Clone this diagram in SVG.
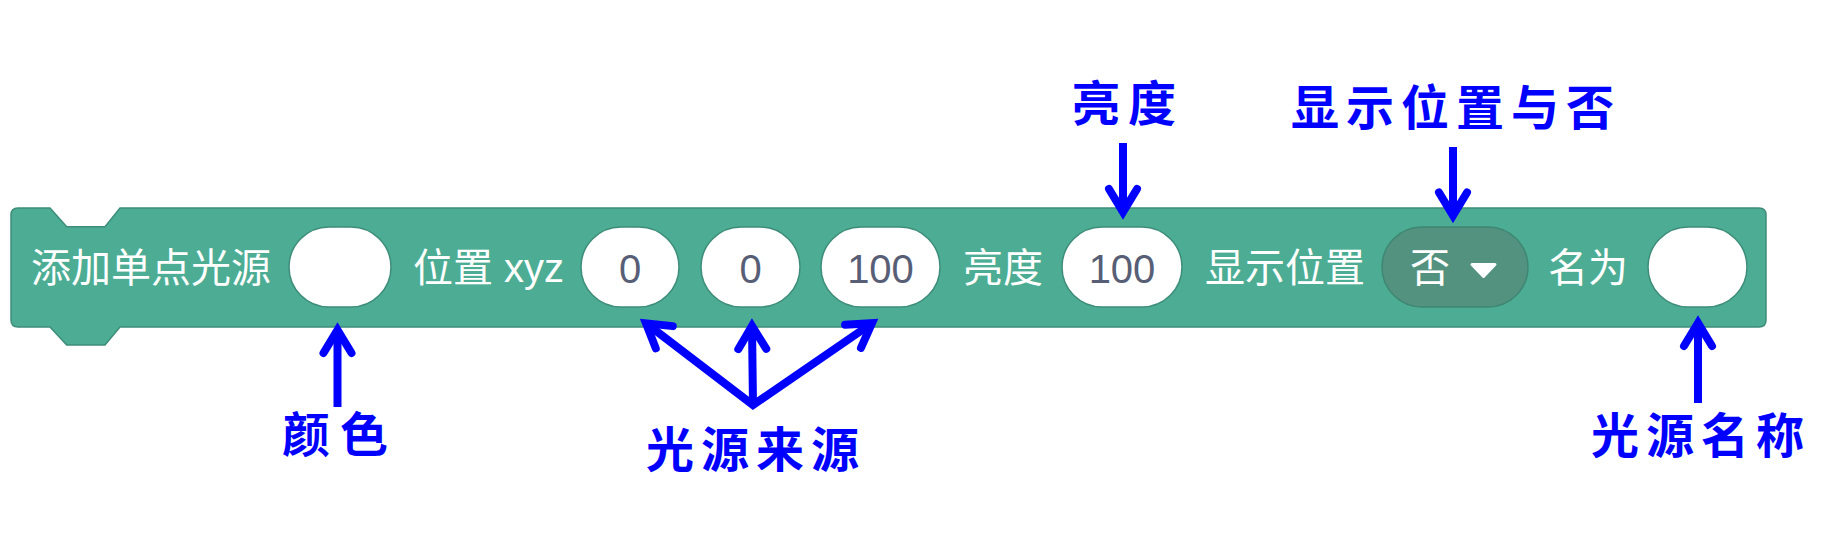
<svg xmlns="http://www.w3.org/2000/svg" width="1845" height="554" viewBox="0 0 1845 554">
<style>
.blk{fill:#4CAD94;stroke:#3E8D7A;stroke-width:1.5}
.slot{fill:#FFFFFF;stroke:#3E8D7A;stroke-width:1.5}
.drop{fill:#53927F;stroke:#3E8772;stroke-width:1.5}
.lbl{font-family:"Liberation Sans","Noto Sans CJK SC",sans-serif;font-size:40px;fill:#FFFFFF}
.num{font-family:"Liberation Sans",sans-serif;font-size:40px;fill:#575E75;text-anchor:middle}
.note{font-family:"Noto Sans CJK SC",sans-serif;font-size:48px;font-weight:bold;fill:#0000FF}
.conn{fill:none;stroke:#0000FF;stroke-width:8;stroke-linecap:butt;stroke-linejoin:miter}
</style>
<defs>
<marker id="ah" markerUnits="userSpaceOnUse" viewBox="-32 -24 44 48" markerWidth="44" markerHeight="48" refX="0" refY="0" orient="auto-start-reverse">
<path d="M-23,-14 L0,0 L-23,14" fill="none" stroke="#0000FF" stroke-width="8" stroke-linecap="round" stroke-linejoin="miter"/>
</marker>
</defs>
<rect width="1845" height="554" fill="#FFFFFF"/>
<g id="block">
<path class="blk" d="M18,208 L50,208 L66.7,226.7 L105,226.7 L120,208 L1759,208 Q1766,208 1766,215 L1766,320 Q1766,327 1759,327 L120,327 L105,345 L66.7,345 L50,327 L18,327 Q11,327 11,320 L11,215 Q11,208 18,208 Z"/>
<text class="lbl" x="31" y="282">添加单点光源</text>
<text class="lbl" x="413" y="282">位置 xyz</text>
<text class="lbl" x="963" y="282">亮度</text>
<text class="lbl" x="1205" y="282">显示位置</text>
<text class="lbl" x="1548" y="282">名为</text>
</g>
<g id="field-color"><rect class="slot" x="289" y="227" width="102" height="80" rx="40"/></g>
<g id="field-x"><rect class="slot" x="581" y="227" width="98" height="80" rx="40"/><text class="num" x="630" y="283">0</text></g>
<g id="field-y"><rect class="slot" x="701" y="227" width="99" height="80" rx="40"/><text class="num" x="750.5" y="283">0</text></g>
<g id="field-z"><rect class="slot" x="821" y="227" width="119" height="80" rx="40"/><text class="num" x="880.5" y="283">100</text></g>
<g id="field-brightness"><rect class="slot" x="1062" y="227" width="120" height="80" rx="40"/><text class="num" x="1122" y="283">100</text></g>
<g id="field-show">
<rect class="drop" x="1382" y="227" width="146" height="80" rx="40"/>
<text class="lbl" x="1410" y="282">否</text>
<path d="M1472,264.5 L1495,264.5 L1483.5,276.5 Z" fill="#FFFFFF" stroke="#FFFFFF" stroke-width="3" stroke-linejoin="round"/>
</g>
<g id="field-name"><rect class="slot" x="1648" y="227" width="99" height="80" rx="40"/></g>
<g id="label-color"><text class="note" x="282" y="452" letter-spacing="10">颜色</text></g>
<g id="label-source"><text class="note" x="646" y="467" letter-spacing="7">光源来源</text></g>
<g id="label-brightness"><text class="note" x="1072" y="121" letter-spacing="8">亮度</text></g>
<g id="label-show"><text class="note" x="1291" y="125" letter-spacing="7">显示位置与否</text></g>
<g id="label-name"><text class="note" x="1591" y="453" letter-spacing="7">光源名称</text></g>
<g id="connectors">
<path class="conn" d="M337.5,407 L337.5,330" marker-end="url(#ah)"/>
<path class="conn" d="M646,323.3 L753,405 L872,323.2" marker-start="url(#ah)" marker-end="url(#ah)"/>
<path class="conn" d="M753,406 L752,326" marker-end="url(#ah)"/>
<path class="conn" d="M1123,143 L1123,212" marker-end="url(#ah)"/>
<path class="conn" d="M1453,147 L1453,215.5" marker-end="url(#ah)"/>
<path class="conn" d="M1698,403 L1698,323" marker-end="url(#ah)"/>
</g>
</svg>
